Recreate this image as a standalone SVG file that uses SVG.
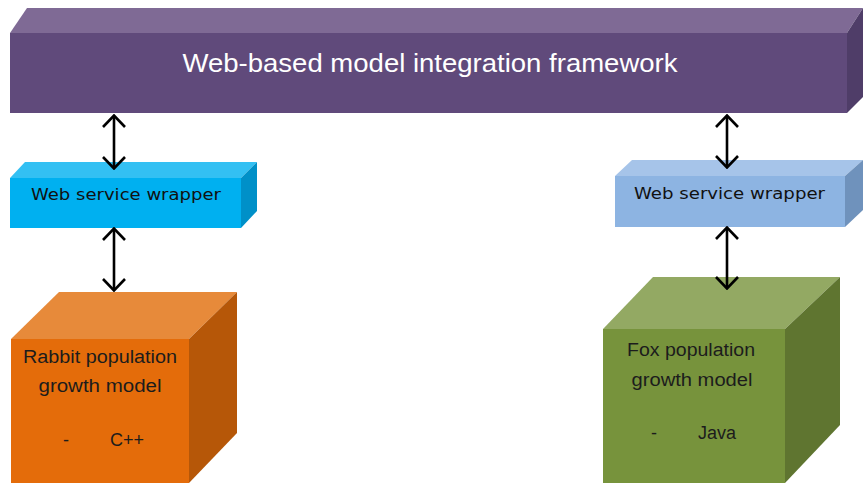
<svg xmlns="http://www.w3.org/2000/svg" width="863" height="483" viewBox="0 0 863 483">
  <style>
    .lbl { font-family: "Liberation Sans", Arial, sans-serif; font-size: 18px; fill: #1c1c1c; }
    .wrap { font-family: "DejaVu Sans", Verdana, sans-serif; font-size: 16px; fill: #111; }
    .conn { stroke: #000; stroke-width: 2.6; fill: none; marker-start: url(#chev); marker-end: url(#chev); }
  </style>
  <defs>
    <marker id="chev" viewBox="0 0 14 24" refX="12" refY="12" markerWidth="14" markerHeight="24" markerUnits="userSpaceOnUse" orient="auto-start-reverse">
      <path d="M1,1 L12.5,12 L1,23" fill="none" stroke="#000" stroke-width="2.6" stroke-linejoin="miter"/>
    </marker>
  </defs>

  <rect width="863" height="483" fill="#fff"/>

  <!-- framework bar -->
  <g id="framework">
    <polygon points="10,33 27,8 863,8 847,33" fill="#7F6A95"/>
    <polygon points="847,33 863,8 863,97 847,113" fill="#4F3D68"/>
    <rect x="10" y="33" width="837" height="80" fill="#604A7B"/>
    <text x="430" y="72" text-anchor="middle" font-family="Liberation Sans, Arial, sans-serif" font-size="26" fill="#fff" textLength="495" lengthAdjust="spacingAndGlyphs">Web-based model integration framework</text>
  </g>

  <!-- left wrapper -->
  <g id="wrapper-left">
    <polygon points="10,178 25,162 257,162 241,178" fill="#33C0F3"/>
    <polygon points="241,178 257,162 257,211 241,228" fill="#0090C8"/>
    <rect x="10" y="178" width="231" height="50" fill="#00B0F0"/>
    <text class="wrap" x="31" y="200" textLength="190" lengthAdjust="spacingAndGlyphs">Web service wrapper</text>
  </g>

  <!-- right wrapper -->
  <g id="wrapper-right">
    <polygon points="615,176 632,160 863,160 845,176" fill="#A6C4E9"/>
    <polygon points="845,176 863,160 863,210 845,227" fill="#6F92BC"/>
    <rect x="615" y="176" width="230" height="51" fill="#8DB4E2"/>
    <text class="wrap" x="634" y="199" textLength="191" lengthAdjust="spacingAndGlyphs">Web service wrapper</text>
  </g>

  <!-- rabbit model cube -->
  <g id="rabbit-model">
    <polygon points="11,339 59,292 237,292 189,339" fill="#E78A3A"/>
    <polygon points="189,339 237,292 237,433 189,483" fill="#B65708"/>
    <rect x="11" y="339" width="178" height="144" fill="#E46C0A"/>
    <text class="lbl" x="100" y="363" text-anchor="middle" textLength="154" lengthAdjust="spacingAndGlyphs">Rabbit population</text>
    <text class="lbl" x="100" y="392" text-anchor="middle" textLength="123" lengthAdjust="spacingAndGlyphs">growth model</text>
    <text class="lbl" x="63" y="446">-</text>
    <text class="lbl" x="110" y="446">C++</text>
  </g>

  <!-- fox model cube -->
  <g id="fox-model">
    <polygon points="603,329 653,277 840,277 785,329" fill="#93A963"/>
    <polygon points="785,329 840,277 840,425 785,483" fill="#5F7530"/>
    <rect x="603" y="329" width="182" height="154" fill="#77933C"/>
    <text class="lbl" x="691" y="356" text-anchor="middle" textLength="128" lengthAdjust="spacingAndGlyphs">Fox population</text>
    <text class="lbl" x="692" y="386" text-anchor="middle" textLength="121" lengthAdjust="spacingAndGlyphs">growth model</text>
    <text class="lbl" x="651" y="439">-</text>
    <text class="lbl" x="698" y="439">Java</text>
  </g>

  <!-- connectors -->
  <g id="connectors">
    <line class="conn" x1="114" y1="116" x2="114" y2="168"/>
    <line class="conn" x1="114" y1="229" x2="114" y2="290"/>
    <line class="conn" x1="727" y1="116" x2="727" y2="167"/>
    <line class="conn" x1="727" y1="228" x2="727" y2="288"/>
  </g>
</svg>
